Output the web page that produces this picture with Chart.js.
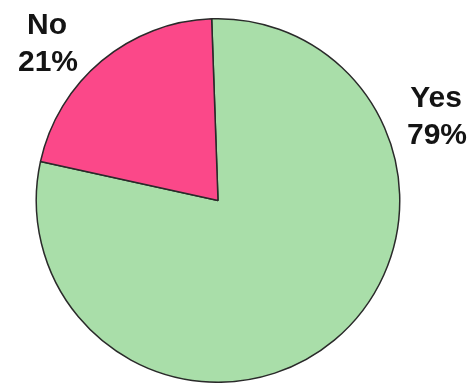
<!DOCTYPE html>
<html>
<head>
<meta charset="utf-8">
<script src="https://cdn.jsdelivr.net/npm/chart.js@4"></script>
<style>
  html, body { margin: 0; padding: 0; background: #fff; }
  #wrap { width: 474px; height: 383px; }
</style>
</head>
<body>
<div id="wrap"><canvas id="pieChart" width="474" height="383"></canvas></div>
<script>
// Данные
const labels = ['Yes', 'No'];
const values = [79, 21];
const colors = ['#a9dea9', '#fb4889'];
// где писать подписи (x, y центра первой строки)
const labelPos = [[436, 99], [47, 26]];

// Плагин для подписей "Yes 79%" / "No 21%"
const sliceLabels = {
  id: 'sliceLabels',
  afterDraw(chart) {
    const {ctx} = chart;
    ctx.save();
    ctx.font = 'bold 30px "Liberation Sans", Arial, sans-serif';
    ctx.fillStyle = '#141414';
    ctx.textAlign = 'center';
    ctx.textBaseline = 'middle';
    labels.forEach((lbl, i) => {
      const [x, y] = labelPos[i];
      ctx.fillText(lbl, x, y);
      ctx.fillText(values[i] + '%', x + 1, y + 37);
    });
    ctx.restore();
  }
};

const pieCtx = document.getElementById('pieChart').getContext('2d');
new Chart(pieCtx, {
  type: 'pie',
  data: {
    labels: labels,
    datasets: [{
      data: values,
      backgroundColor: colors,
      borderColor: '#2a2a2a',
      borderWidth: 1.5
    }]
  },
  options: {
    responsive: false,
    animation: false,
    rotation: -2,
    layout: { padding: { left: 35, right: 73, top: 18, bottom: 0 } },
    plugins: {
      legend: { display: false },
      tooltip: { enabled: false }
    }
  },
  plugins: [sliceLabels]
});
</script>
</body>
</html>
